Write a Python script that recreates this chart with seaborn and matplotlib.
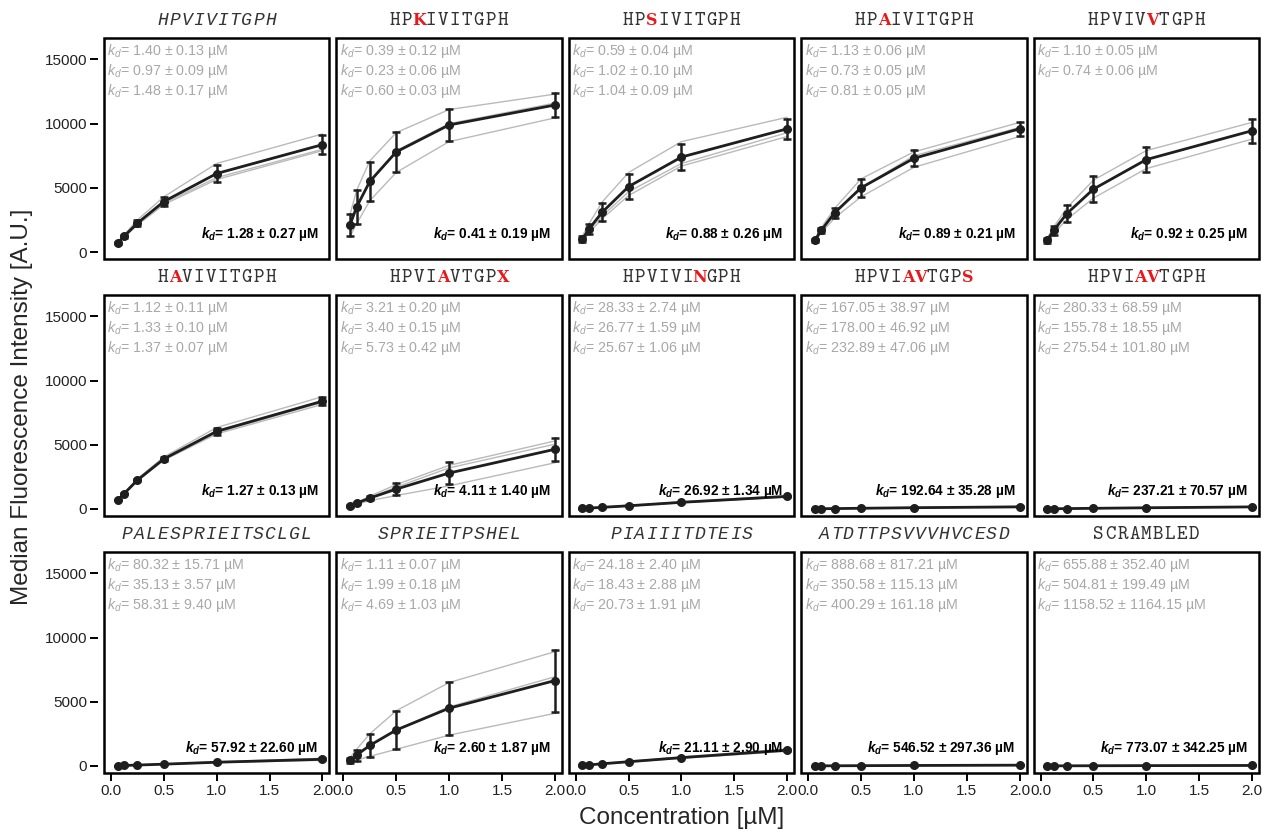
import numpy as np
import pandas as pd
import matplotlib
matplotlib.use("Agg")
import matplotlib.pyplot as plt
from matplotlib.patches import Rectangle
import seaborn as sns

# concentrations [uM]
conc = [0.0625, 0.125, 0.25, 0.5, 1.0, 2.0]

peptides = ["HPVIVITGPH", "HPKIVITGPH", "HPSIVITGPH", "HPAIVITGPH", "HPVIVVTGPH",
            "HAVIVITGPH", "HPVIAVTGPX", "HPVIVINGPH", "HPVIAVTGPS", "HPVIAVTGPH",
            "PALESPRIEITSCLGL", "SPRIEITPSHEL", "PIAIIITDTEIS", "ATDTTPSVVVHVCESD", "SCRAMBLED"]
italic = [True, False, False, False, False,
          False, False, False, False, False,
          True, True, True, True, False]
# positions of substituted residues (drawn red)
mutated = [[], [2], [2], [2], [5],
           [1], [4, 9], [6], [4, 5, 9], [4, 5],
           [], [], [], [], []]

# replicate curves, median fluorescence intensity [A.U.]
hpvivitgph = [[750, 1350, 2500, 4300, 6900, 9200],
              [650, 1200, 2150, 3800, 5800, 8000],
              [700, 1150, 2100, 3700, 5650, 7900]]
hpkivitgph = [[2900, 4800, 7100, 9300, 11100, 12300],
              [2200, 3500, 5400, 7900, 10000, 11600],
              [1200, 2200, 4000, 6200, 8600, 10450]]
hpsivitgph = [[1250, 2200, 3900, 6200, 8600, 10500],
              [950, 1700, 2800, 4700, 6900, 9300],
              [800, 1500, 2600, 4400, 6700, 9000]]
hpaivitgph = [[1000, 1900, 3400, 5700, 7800, 10100],
              [900, 1700, 3100, 5000, 7500, 9700],
              [800, 1500, 2650, 4300, 6600, 9000]]
hpvivvtgph = [[1050, 1950, 3450, 5600, 7900, 10100],
              [750, 1450, 2550, 4200, 6500, 8800]]
havivitgph = [[720, 1250, 2350, 4050, 6350, 8750],
              [690, 1180, 2220, 3850, 5950, 8300],
              [690, 1170, 2180, 3800, 5850, 8150]]
hpviavtgpx = [[300, 500, 1000, 1900, 3400, 5300],
              [260, 480, 900, 1700, 3200, 5050],
              [190, 370, 650, 1050, 1800, 3600]]
hpvivingph = [[45, 80, 150, 280, 560, 1050],
              [40, 70, 130, 250, 510, 960],
              [35, 60, 110, 220, 490, 930]]
hpviavtgps = [[15, 25, 40, 70, 120, 200],
              [10, 20, 30, 55, 100, 170],
              [8, 15, 25, 45, 80, 130]]
hpviavtgph = [[12, 20, 35, 60, 110, 190],
              [10, 18, 30, 55, 95, 160],
              [8, 14, 25, 45, 80, 140]]
palesprieitsclgl = [[25, 45, 85, 160, 320, 600],
                    [20, 40, 70, 140, 290, 520],
                    [15, 35, 55, 120, 260, 440]]
sprieitpshel = [[650, 1300, 2500, 4300, 6500, 8900],
                [400, 800, 1550, 2800, 4600, 6950],
                [300, 450, 750, 1300, 2400, 4100]]
piaiiitdteis = [[45, 90, 190, 360, 700, 1320],
                [40, 80, 170, 330, 650, 1230],
                [35, 70, 150, 300, 600, 1140]]
atdttpsvvvhvcesd = [[8, 12, 20, 30, 50, 80],
                    [5, 9, 14, 22, 38, 60],
                    [3, 6, 10, 16, 28, 45]]
scrambled = [[6, 10, 15, 22, 32, 48],
             [5, 8, 12, 18, 28, 40],
             [3, 5, 8, 12, 20, 30]]

curves = [hpvivitgph, hpkivitgph, hpsivitgph, hpaivitgph, hpvivvtgph,
          havivitgph, hpviavtgpx, hpvivingph, hpviavtgps, hpviavtgph,
          palesprieitsclgl, sprieitpshel, piaiiitdteis, atdttpsvvvhvcesd, scrambled]

# per-replicate fits (value, error)
rep_kd = [[(1.40, 0.13), (0.97, 0.09), (1.48, 0.17)],
          [(0.39, 0.12), (0.23, 0.06), (0.60, 0.03)],
          [(0.59, 0.04), (1.02, 0.10), (1.04, 0.09)],
          [(1.13, 0.06), (0.73, 0.05), (0.81, 0.05)],
          [(1.10, 0.05), (0.74, 0.06)],
          [(1.12, 0.11), (1.33, 0.10), (1.37, 0.07)],
          [(3.21, 0.20), (3.40, 0.15), (5.73, 0.42)],
          [(28.33, 2.74), (26.77, 1.59), (25.67, 1.06)],
          [(167.05, 38.97), (178.00, 46.92), (232.89, 47.06)],
          [(280.33, 68.59), (155.78, 18.55), (275.54, 101.80)],
          [(80.32, 15.71), (35.13, 3.57), (58.31, 9.40)],
          [(1.11, 0.07), (1.99, 0.18), (4.69, 1.03)],
          [(24.18, 2.40), (18.43, 2.88), (20.73, 1.91)],
          [(888.68, 817.21), (350.58, 115.13), (400.29, 161.18)],
          [(655.88, 352.40), (504.81, 199.49), (1158.52, 1164.15)]]
# pooled fits
mean_kd = [(1.28, 0.27), (0.41, 0.19), (0.88, 0.26), (0.89, 0.21), (0.92, 0.25),
           (1.27, 0.13), (4.11, 1.40), (26.92, 1.34), (192.64, 35.28), (237.21, 70.57),
           (57.92, 22.60), (2.60, 1.87), (21.11, 2.90), (546.52, 297.36), (773.07, 342.25)]

sns.set_style("ticks")
plt.rcParams["font.family"] = ["Liberation Sans", "DejaVu Sans"]
plt.rcParams["mathtext.fontset"] = "custom"
plt.rcParams["mathtext.rm"] = "Liberation Sans"
plt.rcParams["mathtext.it"] = "Liberation Sans:italic"
plt.rcParams["mathtext.bf"] = "Liberation Sans:bold"
plt.rcParams["mathtext.bfit"] = "Liberation Sans:italic:bold"

fig, axes = plt.subplots(3, 5, figsize=(12.62, 8.33), dpi=100, sharex=True, sharey=True)
fig.subplots_adjust(left=0.0824, right=0.9976, top=0.954, bottom=0.072,
                    wspace=0.031, hspace=0.164)

# peptide titles are typed on a fixed pitch
adv = 8.6
red = "#e41a1c"

for k, ax in enumerate(axes.flat):
    row, col = divmod(k, 5)
    reps = curves[k]
    df = pd.DataFrame({
        "conc": conc * len(reps),
        "mfi": [v for r in reps for v in r],
        "rep": [i for i, r in enumerate(reps) for _ in r],
    })

    # replicates
    sns.lineplot(data=df, x="conc", y="mfi", units="rep", estimator=None,
                 color="#bababa", linewidth=1, ax=ax, legend=False)
    # mean +/- sd
    sns.lineplot(data=df, x="conc", y="mfi", errorbar="sd", err_style="bars",
                 marker="o", markersize=6.5, markeredgewidth=0, color="#1e1e1e",
                 linewidth=2, ax=ax, legend=False,
                 err_kws=dict(capsize=3, elinewidth=1.8, capthick=1.8))

    ax.set_xlim(-0.066, 2.066)
    ax.set_ylim(-550, 16650)
    ax.set_xticks([0, 0.5, 1, 1.5, 2])
    ax.set_yticks([0, 5000, 10000, 15000])
    ax.set_xlabel("")
    ax.set_ylabel("")
    # panel border drawn as a box, y ticks sit slightly away from it
    for sp in ax.spines.values():
        sp.set_visible(False)
    ax.spines["left"].set_position(("outward", 4.3))
    ax.add_patch(Rectangle((0, 0), 1, 1, transform=ax.transAxes, fill=False,
                           lw=1.8, edgecolor="black", clip_on=False, zorder=5))
    ax.tick_params(direction="out", length=5.8, width=1.4, labelsize=11, pad=2,
                   color="black", labelcolor="#222222")
    if col != 0:
        ax.tick_params(left=False)
    if row != 2:
        ax.tick_params(bottom=False)

    # title with substituted residues in red
    name = peptides[k]
    n = len(name)
    for i, ch in enumerate(name):
        hit = i in mutated[k]
        if hit:
            fam, fs, sty, wt = "DejaVu Serif", 11.5, "normal", "bold"
        elif italic[k]:
            fam, fs, sty, wt = "Liberation Mono", 13, "italic", "normal"
        else:
            fam, fs, sty, wt = "cmtt10", 14.5, "normal", "normal"
        ax.annotate(ch, xy=(0.5, 1), xycoords="axes fraction",
                    xytext=((i - (n - 1) / 2) * adv, 9.5), textcoords="offset points",
                    ha="center", va="baseline", fontsize=fs, family=fam, style=sty,
                    weight=wt, color=red if hit else "#333333",
                    annotation_clip=False)

    # replicate kd values
    for i, (v, e) in enumerate(rep_kd[k]):
        ax.annotate(r"$\mathit{k}_{\mathit{d}}$" + f"= {v:.2f} ± {e:.2f} µM",
                    xy=(0, 1), xycoords="axes fraction",
                    xytext=(2.5, -3 - i * 14.4), textcoords="offset points",
                    ha="left", va="top", fontsize=10.3, color="#a8a8a8")

    v, e = mean_kd[k]
    ax.annotate(r"$\mathbfit{k}_{\mathbfit{d}}$" + f"= {v:.2f} ± {e:.2f} µM",
                xy=(1, 0), xycoords="axes fraction",
                xytext=(-8, 18), textcoords="offset points",
                ha="right", va="center", fontsize=9.8, weight="bold", color="black")

fig.text(0.0174, 0.512, "Median Fluorescence Intensity [A.U.]", rotation=90,
         ha="center", va="center", fontsize=17.5)
fig.text(0.54, 0.018, "Concentration [µM]", ha="center", va="center", fontsize=17.5)

plt.savefig("out.png", dpi=100)
